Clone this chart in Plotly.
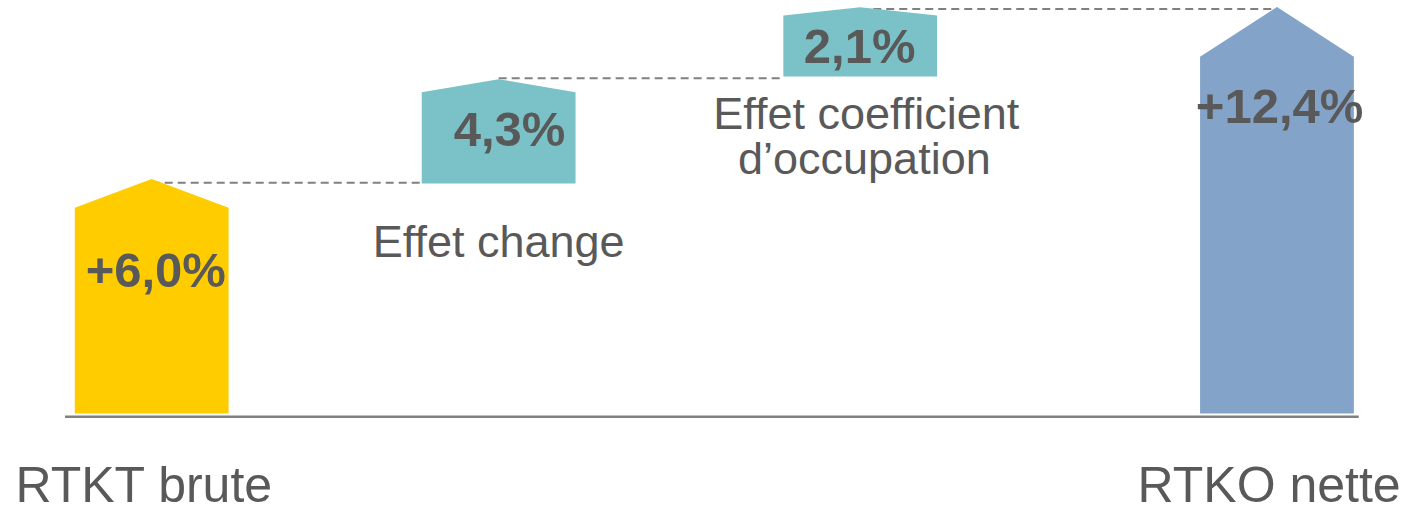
import plotly.graph_objects as go

# ---------------- data ----------------
categories = ["RTKT brute", "Effet change", "Effet coefficient d’occupation", "RTKO nette"]
values = [6.0, 4.3, 2.1, 12.4]
value_labels = ["+6,0%", "4,3%", "2,1%", "+12,4%"]
# drawn levels of each arrow-shaped bar (diagram units, net arrow tip = 12.4)
level_bottom = [0.0, 7.02, 10.28, 0.0]
level_shoulder = [6.28, 9.80, 12.14, 10.88]
level_apex = [7.15, 10.20, 12.39, 12.40]
connector_level = [7.04, 10.23, 12.34]

# ---------------- layout / style ----------------
slot = [0.0, 0.925, 1.889, 3.0]          # horizontal slot of each bar
bar_w = 0.41
colors = ["#FFCC00", "#7AC2C8", "#7AC2C8", "#84A3C8"]
text_color = "#595959"
font_family = "Arial, 'Liberation Sans', sans-serif"

# value label anchors (x, y) in axis units
value_pos = [(0.011, 4.242), (0.954, 8.534), (1.8875, 11.075), (3.007, 9.227)]
# category label lines: (text, x, y, size)
cat_lines = [
    ("RTKT brute", -0.021, -2.318, 50),
    ("Effet change", 0.925, 5.127, 45),
    ("Effet coefficient", 1.905, 9.013, 45),
    ("d’occupation", 1.900, 7.650, 45),
    ("RTKO nette", 2.979, -2.318, 50),
]

fig = go.Figure()

# connectors (drawn first so arrows cover their ends)
for i, lvl in enumerate(connector_level):
    x0 = slot[i]
    x1 = slot[i + 1] - bar_w / 2 if i < 2 else slot[i + 1]
    fig.add_trace(go.Scatter(
        x=[x0, x1], y=[lvl, lvl], mode="lines",
        line=dict(color="#808080", width=2, dash="8px,5px"),
        hoverinfo="skip", showlegend=False))

# arrow-shaped bars
for i, cat in enumerate(categories):
    c = slot[i]
    l, r = c - bar_w / 2, c + bar_w / 2
    fig.add_trace(go.Scatter(
        x=[l, l, c, r, r, l],
        y=[level_bottom[i], level_shoulder[i], level_apex[i],
           level_shoulder[i], level_bottom[i], level_bottom[i]],
        mode="lines", fill="toself", fillcolor=colors[i],
        line=dict(width=0, color=colors[i]),
        name=cat, hoverinfo="skip", showlegend=False))

# value labels
fig.add_trace(go.Scatter(
    x=[p[0] for p in value_pos], y=[p[1] for p in value_pos],
    text=["<b>%s</b>" % t for t in value_labels], mode="text",
    textposition="middle center",
    textfont=dict(family=font_family, size=49, color=text_color),
    cliponaxis=False, hoverinfo="skip", showlegend=False))

# category labels
for txt, x, y, s in cat_lines:
    fig.add_trace(go.Scatter(
        x=[x], y=[y], text=[txt], mode="text", textposition="middle center",
        textfont=dict(family=font_family, size=s, color=text_color),
        cliponaxis=False, hoverinfo="skip", showlegend=False))

# baseline
fig.add_shape(type="line", xref="x", yref="y", x0=-0.231, x1=3.218, y0=-0.1, y1=-0.1,
              line=dict(color="#808080", width=2.5), layer="below")

fig.update_layout(
    width=1412, height=507,
    margin=dict(l=0, r=0, t=0, b=0),
    paper_bgcolor="white", plot_bgcolor="white",
    xaxis=dict(range=[-0.4044, 3.360], visible=False, fixedrange=True),
    yaxis=dict(range=[-2.852, 12.614], visible=False, fixedrange=True),
    showlegend=False,
)

fig.write_html(
    "out.html",
    config={"displayModeBar": False, "staticPlot": True},
    post_script="document.body.style.margin='0';document.body.style.overflow='hidden';",
)
